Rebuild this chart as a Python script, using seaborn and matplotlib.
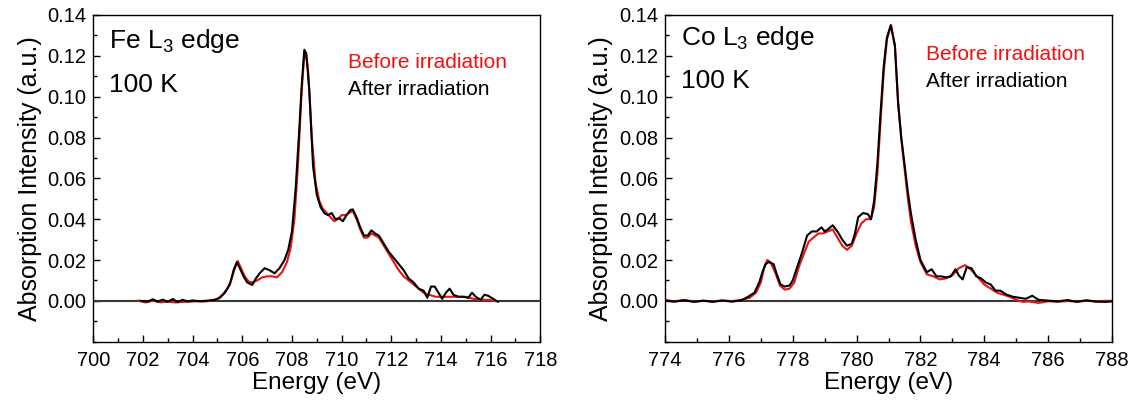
import numpy as np
import pandas as pd
import matplotlib
matplotlib.use("Agg")
import matplotlib.pyplot as plt
import seaborn as sns
from matplotlib.ticker import MultipleLocator

# ------------------------------------------------------------
# Fe L3 edge spectra
# ------------------------------------------------------------
fe_e_after = [701.9, 702.2, 702.4, 702.6, 702.8, 703.0, 703.2, 703.4, 703.6, 703.8,
              704.0, 704.3, 704.6, 704.9, 705.1, 705.3, 705.5, 705.65, 705.78, 705.9,
              706.05, 706.2, 706.4, 706.55, 706.7, 706.9, 707.1, 707.3, 707.5, 707.7,
              707.85, 708.0, 708.15, 708.3, 708.4, 708.5, 708.58, 708.7, 708.85, 709.0,
              709.15, 709.3, 709.45, 709.6, 709.75, 709.9, 710.05, 710.2, 710.35, 710.45,
              710.6, 710.75, 710.9, 711.05, 711.2, 711.35, 711.5, 711.7, 711.9, 712.1,
              712.3, 712.5, 712.7, 712.9, 713.1, 713.3, 713.45, 713.6, 713.75, 713.9,
              714.05, 714.2, 714.35, 714.5, 714.7, 714.9, 715.1, 715.25, 715.4, 715.6,
              715.75, 715.9, 716.1, 716.3]
fe_i_after = [0.000, -0.0003, 0.0008, -0.0004, 0.0006, -0.0005, 0.0009, -0.0006, 0.0005, -0.0003,
              0.0002, -0.0002, 0.0001, 0.0005, 0.0015, 0.004, 0.008, 0.015, 0.019, 0.016,
              0.012, 0.009, 0.0078, 0.011, 0.0135, 0.016, 0.015, 0.0135, 0.016, 0.020,
              0.025, 0.034, 0.055, 0.085, 0.107, 0.123, 0.121, 0.103, 0.066, 0.052,
              0.046, 0.043, 0.042, 0.043, 0.040, 0.0405, 0.039, 0.042, 0.0445, 0.0448,
              0.041, 0.036, 0.032, 0.032, 0.0345, 0.033, 0.032, 0.028, 0.024, 0.021,
              0.018, 0.015, 0.011, 0.009, 0.006, 0.005, 0.0015, 0.007, 0.007, 0.004,
              0.001, 0.004, 0.006, 0.003, 0.002, 0.002, 0.0015, 0.004, 0.002, 0.0005,
              0.003, 0.0025, 0.001, -0.0005]

fe_e_before = [701.8, 702.1, 702.4, 702.7, 703.0, 703.3, 703.6, 703.9, 704.2, 704.5,
               704.8, 705.0, 705.2, 705.4, 705.55, 705.7, 705.82, 705.95, 706.1, 706.25,
               706.4, 706.6, 706.8, 707.0, 707.2, 707.4, 707.6, 707.8, 707.95, 708.1,
               708.25, 708.38, 708.48, 708.56, 708.65, 708.8, 708.95, 709.1, 709.25, 709.4,
               709.55, 709.7, 709.85, 710.0, 710.15, 710.3, 710.45, 710.6, 710.75, 710.9,
               711.05, 711.2, 711.35, 711.5, 711.7, 711.9, 712.1, 712.3, 712.5, 712.7,
               712.9, 713.1, 713.3, 713.5, 713.8, 714.1, 714.4, 714.7, 715.0, 715.3,
               715.6, 715.9, 716.2]
fe_i_before = [0.0002, -0.0008, 0.0001, -0.0007, -0.0004, -0.0008, -0.0005, -0.0004, -0.0002, -0.0003,
               0.0002, 0.001, 0.003, 0.006, 0.010, 0.016, 0.0195, 0.016, 0.012, 0.0095,
               0.009, 0.010, 0.0115, 0.012, 0.012, 0.0115, 0.014, 0.019, 0.026, 0.040,
               0.068, 0.100, 0.118, 0.121, 0.113, 0.080, 0.058, 0.049, 0.045, 0.043,
               0.041, 0.039, 0.040, 0.042, 0.042, 0.043, 0.044, 0.040, 0.035, 0.031,
               0.031, 0.033, 0.032, 0.031, 0.027, 0.023, 0.019, 0.015, 0.012, 0.010,
               0.008, 0.006, 0.004, 0.003, 0.002, 0.002, 0.002, 0.002, 0.002, 0.001,
               0.0005, 0.0005, 0.0000]

# ------------------------------------------------------------
# Co L3 edge spectra
# ------------------------------------------------------------
co_e_after = [774.0, 774.3, 774.6, 774.9, 775.2, 775.5, 775.8, 776.1, 776.4, 776.6,
              776.8, 776.95, 777.05, 777.15, 777.25, 777.4, 777.5, 777.62, 777.75, 777.9,
              778.0, 778.15, 778.3, 778.45, 778.6, 778.75, 778.9, 779.0, 779.1, 779.25,
              779.4, 779.55, 779.7, 779.85, 779.95, 780.05, 780.2, 780.35, 780.45, 780.55,
              780.65, 780.75, 780.85, 780.95, 781.07, 781.2, 781.3, 781.4, 781.5, 781.6,
              781.7, 781.85, 782.0, 782.2, 782.35, 782.5, 782.65, 782.8, 782.95, 783.1,
              783.2, 783.32, 783.45, 783.6, 783.75, 783.9, 784.05, 784.2, 784.35, 784.5,
              784.7, 784.9, 785.1, 785.3, 785.5, 785.7, 786.0, 786.3, 786.6, 786.9,
              787.2, 787.5, 787.8, 788.0]
co_i_after = [0.0002, -0.0004, 0.0003, -0.0005, 0.0001, -0.0005, 0.0002, -0.0004, 0.0003, 0.002,
              0.004, 0.009, 0.014, 0.018, 0.019, 0.018, 0.013, 0.008, 0.007, 0.0075,
              0.010, 0.017, 0.024, 0.032, 0.034, 0.034, 0.036, 0.034, 0.035, 0.037,
              0.034, 0.030, 0.027, 0.028, 0.033, 0.041, 0.043, 0.0425, 0.040, 0.049,
              0.067, 0.092, 0.115, 0.129, 0.135, 0.125, 0.097, 0.080, 0.067, 0.054,
              0.043, 0.030, 0.020, 0.014, 0.0155, 0.012, 0.012, 0.0115, 0.012, 0.0155,
              0.0125, 0.0105, 0.0165, 0.016, 0.012, 0.011, 0.009, 0.008, 0.005, 0.005,
              0.003, 0.002, 0.0015, 0.001, 0.0025, 0.0005, 0.0001, -0.0003, 0.0004, -0.0005,
              0.0003, -0.0004, -0.0005, -0.0003]

co_e_before = [774.0, 774.3, 774.6, 774.9, 775.2, 775.5, 775.8, 776.1, 776.4, 776.65,
               776.85, 777.0, 777.1, 777.2, 777.3, 777.45, 777.6, 777.75, 777.9, 778.05,
               778.2, 778.35, 778.5, 778.65, 778.8, 778.95, 779.1, 779.25, 779.4, 779.55,
               779.7, 779.85, 780.0, 780.15, 780.3, 780.45, 780.55, 780.65, 780.75, 780.85,
               780.95, 781.08, 781.2, 781.3, 781.4, 781.5, 781.6, 781.7, 781.85, 782.0,
               782.2, 782.4, 782.6, 782.8, 783.0, 783.2, 783.4, 783.6, 783.8, 784.0,
               784.2, 784.4, 784.6, 784.8, 785.0, 785.2, 785.4, 785.7, 786.0, 786.3,
               786.6, 786.9, 787.2, 787.5, 787.8, 788.0]
co_i_before = [0.0003, -0.0002, 0.0004, -0.0003, 0.0000, -0.0002, 0.0001, -0.0001, 0.0005, 0.0015,
               0.004, 0.009, 0.016, 0.020, 0.019, 0.014, 0.0075, 0.0055, 0.006, 0.009,
               0.017, 0.023, 0.029, 0.031, 0.033, 0.033, 0.034, 0.035, 0.031, 0.027,
               0.025, 0.027, 0.033, 0.038, 0.040, 0.040, 0.046, 0.062, 0.088, 0.112,
               0.128, 0.135, 0.125, 0.097, 0.079, 0.065, 0.051, 0.039, 0.027, 0.019,
               0.013, 0.012, 0.0105, 0.011, 0.0125, 0.016, 0.0175, 0.015, 0.0115, 0.008,
               0.006, 0.004, 0.003, 0.002, 0.0005, -0.0005, -0.0003, -0.0010, -0.0002, -0.0004,
               -0.0001, -0.0003, 0.0000, -0.0002, 0.0000, 0.0000]

panels = [
    {"elem": "Fe", "xlim": (700, 718),
     "before": (fe_e_before, fe_i_before), "after": (fe_e_after, fe_i_after),
     "rect": [0.0821, 0.1479, 0.3935, 0.8147],
     "title_y": 0.92, "k_y": 0.786, "leg_x": 0.569, "leg_y": (0.856, 0.771)},
    {"elem": "Co", "xlim": (774, 788),
     "before": (co_e_before, co_i_before), "after": (co_e_after, co_i_after),
     "rect": [0.5854, 0.1479, 0.3935, 0.8147],
     "title_y": 0.931, "k_y": 0.798, "leg_x": 0.583, "leg_y": (0.878, 0.795)},
]

# ------------------------------------------------------------
# Plot
# ------------------------------------------------------------
sns.set_style("ticks")
plt.rcParams['font.family'] = ['Liberation Sans', 'DejaVu Sans']
plt.rcParams['mathtext.fontset'] = 'custom'
plt.rcParams['mathtext.rm'] = 'Liberation Sans'
plt.rcParams['text.color'] = 'black'
plt.rcParams['axes.labelcolor'] = 'black'
plt.rcParams['xtick.color'] = 'black'
plt.rcParams['ytick.color'] = 'black'

fig = plt.figure(figsize=(11.36, 4.01), dpi=100)
yticks = [0.0, 0.02, 0.04, 0.06, 0.08, 0.10, 0.12, 0.14]

for p in panels:
    ax = fig.add_axes(p["rect"])
    df_b = pd.DataFrame({"E": p["before"][0], "I": p["before"][1]})
    df_a = pd.DataFrame({"E": p["after"][0], "I": p["after"][1]})
    ax.axhline(0, color='#3a3a3a', lw=1.5, zorder=1)
    sns.lineplot(data=df_b, x="E", y="I", color='#ee1111', lw=1.5, estimator=None, ax=ax, zorder=2)
    sns.lineplot(data=df_a, x="E", y="I", color='black', lw=1.5, estimator=None, ax=ax, zorder=3)

    ax.set_xlim(*p["xlim"])
    ax.set_ylim(-0.02, 0.14)
    ax.xaxis.set_major_locator(MultipleLocator(2))
    ax.xaxis.set_minor_locator(MultipleLocator(1))
    ax.yaxis.set_minor_locator(MultipleLocator(0.01))
    ax.set_yticks(yticks)
    ax.set_yticklabels([f"{v:.2f}" for v in yticks])
    ax.tick_params(which='both', direction='in', top=False, right=False, labelsize=14.5)
    ax.tick_params(which='major', length=5, width=1)
    ax.tick_params(which='minor', length=2.6, width=1)
    ax.tick_params(axis='x', pad=7)
    ax.tick_params(axis='y', pad=5)
    for s in ax.spines.values():
        s.set_linewidth(1.0)
        s.set_color('black')

    ax.set_xlabel('Energy (eV)', fontsize=17.5, labelpad=1)
    ax.set_ylabel('Absorption Intensity (a.u.)', fontsize=18, labelpad=4)

    ax.text(0.035, p["title_y"], p["elem"] + r" L$_3$ edge", transform=ax.transAxes,
            fontsize=19, va='center', ha='left')
    ax.text(0.035, p["k_y"], "100 K", transform=ax.transAxes,
            fontsize=19, va='center', ha='left')
    ax.text(p["leg_x"], p["leg_y"][0], "Before irradiation", transform=ax.transAxes,
            fontsize=15, color='#ee1111', va='center', ha='left')
    ax.text(p["leg_x"], p["leg_y"][1], "After irradiation", transform=ax.transAxes,
            fontsize=15, color='black', va='center', ha='left')

fig.savefig("out.png", dpi=100)
